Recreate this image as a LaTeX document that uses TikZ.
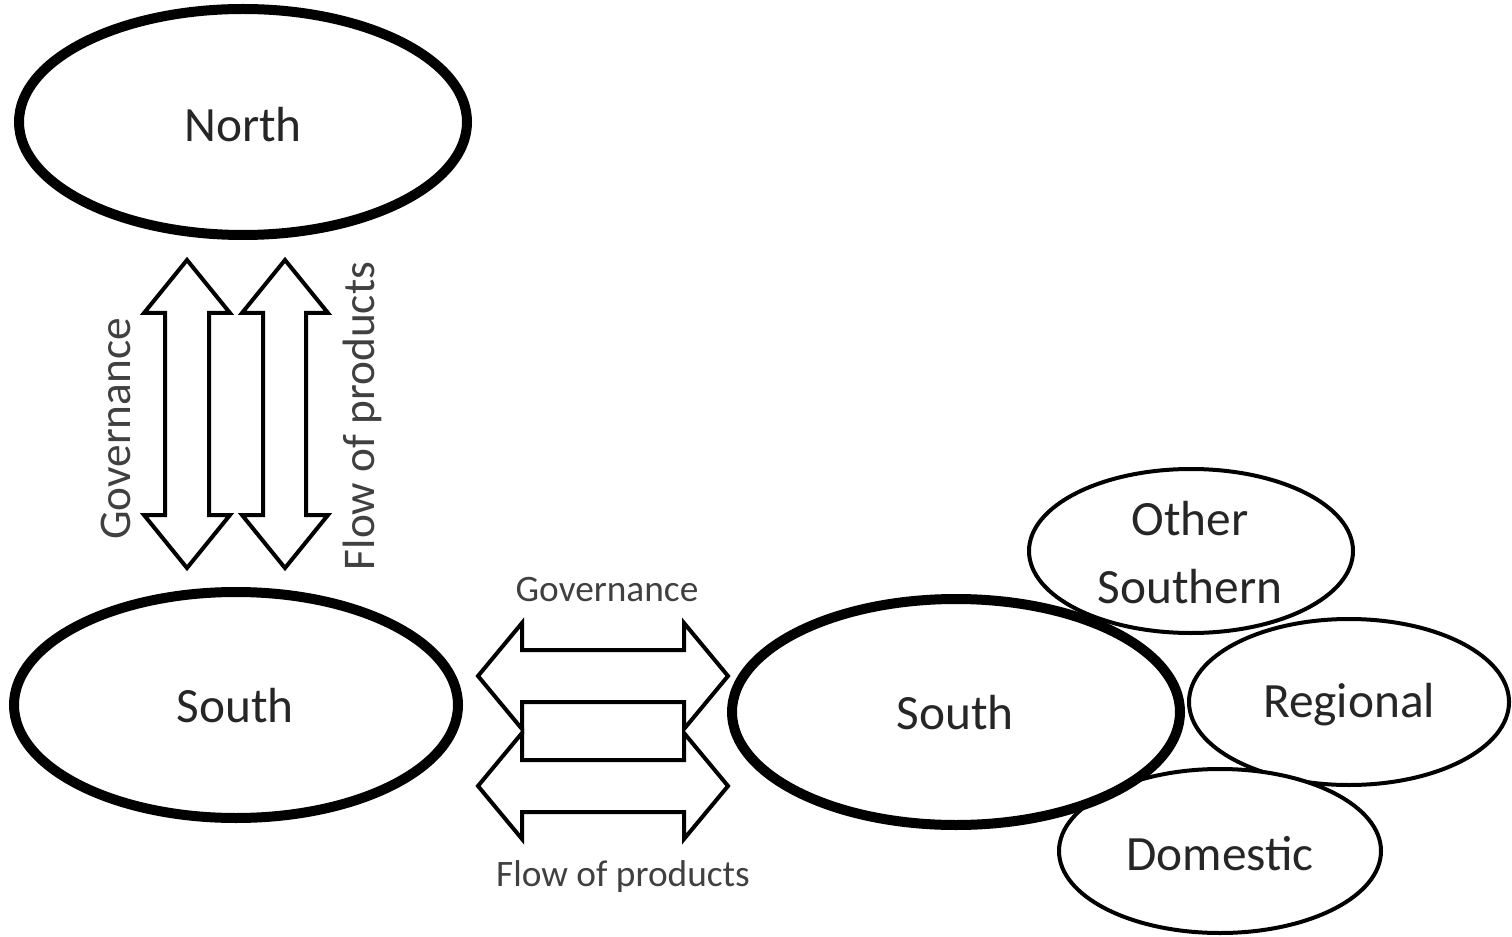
\documentclass[tikz,border=0pt]{standalone}
\usepackage{fontspec}
\setmainfont{Carlito}

\tikzset{
	bigtext/.style={font=\fontsize{37}{51}\selectfont, text=black!85, inner sep=0.75pt, align=center},
	smalltext/.style={font=\fontsize{28}{34}\selectfont, text=black!75, inner sep=0.75pt},
	sidetext/.style={font=\fontsize{34}{40}\selectfont, text=black!75, inner sep=0.75pt, rotate=90},
	thickring/.style={line width=7.5pt, fill=white},
	thinring/.style={line width=3pt, fill=white},
	blockarrow/.style={line width=3pt, fill=white, line join=miter},
}

\begin{document}
\begin{tikzpicture}[x=0.75pt,y=0.75pt,yscale=-1,xscale=1]
	\useasboundingbox (0,0) rectangle (1512,937);
	
	%Shape: Ellipse [North]
	\draw [thickring] (243,122) ellipse (224 and 113);
	%Shape: Ellipse [South, left]
	\draw [thickring] (236,705) ellipse (222 and 113);
	
	%Shape: Ellipse [Other Southern]
	\draw [thinring] (1191,551) ellipse (162 and 82);
	%Shape: Ellipse [Regional]
	\draw [thinring] (1349,702) ellipse (160 and 83);
	%Shape: Ellipse [Domestic]
	\draw [thinring] (1220,851) ellipse (161 and 82);
	%Shape: Ellipse [South, right]
	\draw [thickring] (956,712) ellipse (224 and 113);
	
	%Shape: Up Down Arrow [governance, vertical]
	\draw [blockarrow] (187,260) -- (230,313) -- (209,313) -- (209,515) -- (230,515) -- (187,568) -- (144,515) -- (165,515) -- (165,313) -- (144,313) -- cycle ;
	%Shape: Up Down Arrow [products, vertical]
	\draw [blockarrow] (285,260) -- (328,313) -- (306,313) -- (306,515) -- (328,515) -- (285,568) -- (242,515) -- (263,515) -- (263,313) -- (242,313) -- cycle ;
	
	%Shape: Left Right Arrow [governance, horizontal]
	\draw [blockarrow] (478,676) -- (522,623) -- (522,650) -- (684,650) -- (684,623) -- (728,676) -- (684,729) -- (684,702) -- (522,702) -- (522,729) -- cycle ;
	%Shape: Left Right Arrow [products, horizontal]
	\draw [blockarrow] (478,786) -- (522,733) -- (522,760) -- (684,760) -- (684,733) -- (728,786) -- (684,839) -- (684,812) -- (522,812) -- (522,839) -- cycle ;
	
	% Text Node
	\draw (243,125) node [bigtext] (north) {North};
	% Text Node
	\draw (235,706) node [bigtext] (southL) {South};
	% Text Node
	\draw (955,713) node [bigtext] (southR) {South};
	% Text Node
	\draw (1190,553) node [bigtext] (othersouth) {Other\\Southern};
	% Text Node
	\draw (1349,705) node [bigtext] (regional) {Regional};
	% Text Node
	\draw (1220,854) node [bigtext] (domestic) {Domestic};
	
	% Text Node
	\draw (116,429) node [sidetext] (govV) {Governance};
	% Text Node
	\draw (362,416) node [sidetext] (flowV) {Flow of products};
	% Text Node
	\draw (607,590) node [smalltext] (govH) {Governance};
	% Text Node
	\draw (623,877) node [smalltext] (flowH) {Flow of products};
	
\end{tikzpicture}
\end{document}
